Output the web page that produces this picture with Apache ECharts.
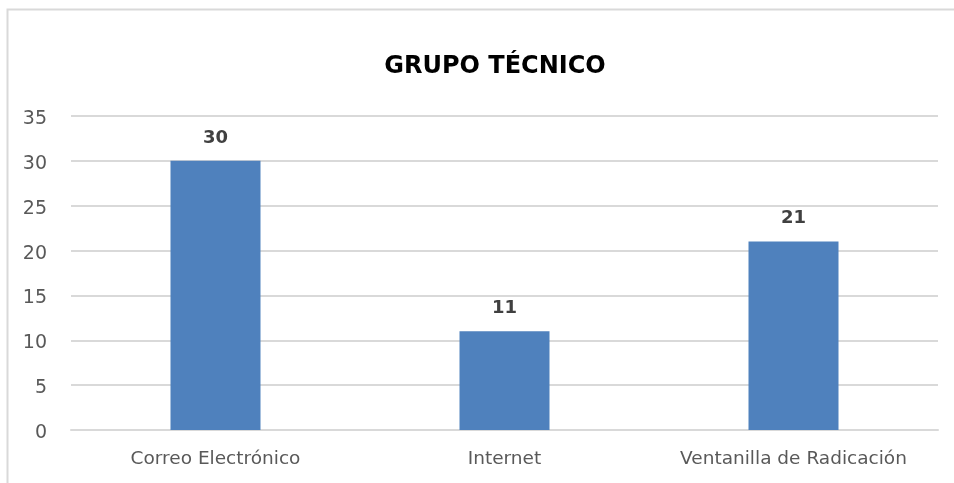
<!DOCTYPE html>
<html>
<head>
<meta charset="utf-8">
<script src="https://cdn.jsdelivr.net/npm/echarts@6/dist/echarts.min.js"></script>
<style>
  html, body { margin: 0; padding: 0; background: #fff; }
  #chart { width: 954px; height: 483px; }
</style>
</head>
<body>
<div id="chart"></div>
<script>
  // datos
  var categorias = ['Correo Electrónico', 'Internet', 'Ventanilla de Radicación']
  var valores = [30, 11, 21]
  var titulo = 'GRUPO TÉCNICO'

  var chart = echarts.init(document.getElementById('chart'))
  var fuente = 'DejaVu Sans, Verdana, sans-serif'
  var option = {
    animation: false,
    graphic: [
      {
        type: 'rect',
        shape: { x: 7.5, y: 9.5, width: 960, height: 500 },
        style: { fill: 'none', stroke: '#d9d9d9', lineWidth: 2 },
        silent: true
      }
    ],
    title: {
      text: titulo,
      left: 490,
      textAlign: 'center',
      top: 50,
      textStyle: { fontFamily: fuente, fontSize: 24, fontWeight: 'bold', color: '#000' }
    },
    grid: { left: 71, right: 16, top: 116, bottom: 53 },
    xAxis: {
      type: 'category',
      data: categorias,
      axisLine: { show: true, lineStyle: { color: '#d9d9d9', width: 2 } },
      axisTick: { show: false },
      axisLabel: { interval: 0, fontFamily: fuente, fontSize: 18.5, color: '#595959', margin: 20 }
    },
    yAxis: {
      type: 'value',
      min: 0,
      max: 35,
      interval: 5,
      axisLine: { show: false },
      axisTick: { show: false },
      splitLine: { lineStyle: { color: '#d9d9d9', width: 2 } },
      axisLabel: {
        margin: 24,
        formatter: '{a|{value}}',
        rich: { a: { fontFamily: fuente, fontSize: 19, color: '#595959', padding: [6, 0, 0, 0] } }
      }
    },
    series: [
      {
        type: 'bar',
        data: valores,
        barWidth: 90,
        itemStyle: { color: '#4f81bd' },
        label: {
          show: true,
          position: 'top',
          distance: 14,
          fontFamily: fuente,
          fontSize: 18,
          fontWeight: 'bold',
          color: '#404040'
        }
      }
    ]
  }
  chart.setOption(option)
</script>
</body>
</html>
